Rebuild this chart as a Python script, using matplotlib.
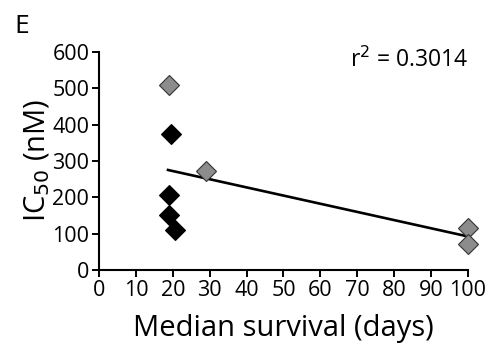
import numpy as np
import matplotlib
matplotlib.use('Agg')
import matplotlib.pyplot as plt

plt.rcParams['font.family'] = ['Open Sans', 'DejaVu Sans']

# data
gray_x = [19, 29, 100, 100]
gray_y = [510, 272, 115, 70]
black_x = [19.5, 19, 19, 20.5]
black_y = [375, 207, 150, 110]
fit_x = [18.7, 100]
fit_y = [275, 92]
xticks = list(range(0, 101, 10))
yticks = list(range(0, 601, 100))

fig = plt.figure(figsize=(4.9, 3.46), dpi=100)
ax = fig.add_axes([0.202, 0.22, 0.753, 0.63])

ax.plot(fit_x, fit_y, color='black', lw=1.9, zorder=2)
ax.plot(gray_x, gray_y, 'D', ms=10.5, mfc='#8c8c8c', mec='#333333', mew=0.8,
        ls='none', zorder=3, clip_on=False)
ax.plot(black_x, black_y, 'D', ms=10.5, mfc='black', mec='black', mew=0.8,
        ls='none', zorder=3, clip_on=False)

ax.set_xlim(0, 100)
ax.set_ylim(0, 600)
ax.set_xticks(xticks)
ax.set_yticks(yticks)
ax.tick_params(labelsize=15.5, length=5, width=1.4, direction='out', pad=2)
for s in ['top', 'right']:
    ax.spines[s].set_visible(False)
for s in ['left', 'bottom']:
    ax.spines[s].set_linewidth(1.5)

ax.set_xlabel('Median survival (days)', fontsize=21, labelpad=10)
ax.set_ylabel('IC$_{50}$ (nM)', fontsize=21, labelpad=0)
ax.text(100, 578, 'r$^2$ = 0.3014', ha='right', va='center', fontsize=16.5)
fig.text(0.03, 0.905, 'E', fontsize=19)

fig.savefig('out.png', dpi=100)
